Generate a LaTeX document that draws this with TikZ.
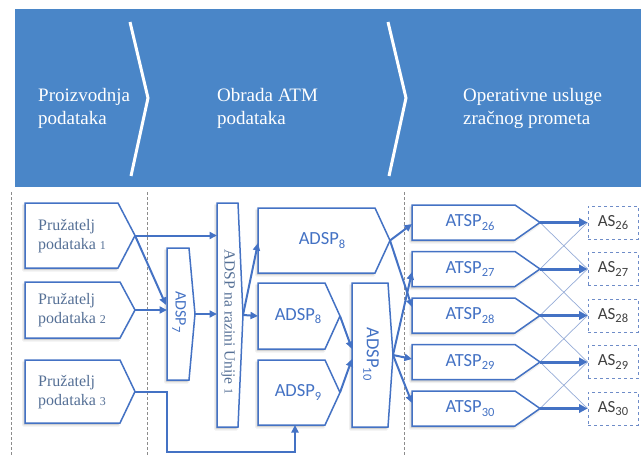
\documentclass[tikz,border=0pt]{standalone}
\usepackage{fontspec}
\setmainfont{Liberation Serif}
\newfontfamily\calibri{Carlito}
\usetikzlibrary{arrows.meta}
\definecolor{hdr}{RGB}{74,134,200}
\definecolor{bx}{RGB}{68,114,196}
\definecolor{ptxt}{RGB}{85,112,150}
\definecolor{astxt}{RGB}{64,64,64}
\definecolor{thinc}{RGB}{150,172,215}
\definecolor{sepc}{RGB}{140,140,140}
\definecolor{asd}{RGB}{110,140,200}
\newcommand\lowsub[1]{\raisebox{-3.5pt}{\fontsize{12.5}{12}\selectfont #1}}
\newcommand\dig[1]{{\fontsize{12}{12}\selectfont #1}}
\newcommand\pbox[6]{%
  \fill[boxshadow] (#2-1.5,#3+2) -- (#4-1.5,#3+2) -- (#5-1.5,{(#3+#6)/2+2}) -- (#4-1.5,#6+2) -- (#2-1.5,#6+2) -- cycle;
  \draw[box] (#2,#3) -- (#4,#3) -- (#5,{(#3+#6)/2}) -- (#4,#6) -- (#2,#6) -- cycle;
  \coordinate (#1-tip) at (#5,{(#3+#6)/2});
  \coordinate (#1-w) at (#2,{(#3+#6)/2});
}
\begin{document}
\begin{tikzpicture}[x=1pt,y=-1pt,
  box/.style={draw=bx, line width=1.5pt, fill=white, line join=miter},
  boxshadow/.style={fill=black, opacity=0.13, draw=black, draw opacity=0.06, line width=3pt, line join=round},
  conn/.style={draw=bx, line width=2pt, -{Triangle[length=7.5pt,width=7pt]}},
  thickconn/.style={draw=bx, line width=3pt, -{Triangle[length=8.5pt,width=8.5pt]}},
  thinconn/.style={draw=thinc, line width=0.7pt},
  sepline/.style={draw=sepc, line width=0.9pt, dash pattern=on 3pt off 2pt},
  hdrtxt/.style={text=white, font=\fontsize{19}{23}\selectfont, align=left, anchor=west, inner sep=0pt},
  ptext/.style={text=ptxt, font=\fontsize{16}{19}\selectfont, align=left, inner sep=0pt},
  stext/.style={text=bx, font=\calibri\fontsize{18.5}{20}\selectfont, inner sep=0pt},
  astext/.style={text=astxt, font=\calibri\fontsize{17}{20}\selectfont, inner sep=0pt},
  asbox/.style={draw=asd, dashed, line width=0.9pt, minimum width=50pt, minimum height=33pt, inner sep=0pt},
]
\useasboundingbox (0,0) rectangle (641,455);

% header
\fill[hdr] (15,9) rectangle (641,187);
\draw[white, line width=3pt] (130,22) -- (148,98) -- (131,176);
\draw[white, line width=3pt] (388,22) -- (406,98) -- (389,176);
\node[hdrtxt] (h1) at (38,108) {Proizvodnja\\podataka};
\node[hdrtxt] (h2) at (217,108) {Obrada ATM\\podataka};
\node[hdrtxt] (h3) at (463,108) {Operativne usluge\\zračnog prometa};

% separators
\draw[sepline] (11,192) -- (11,455);
\draw[sepline] (147,192) -- (147,455);
\draw[sepline] (404,192) -- (404,455);

% boxes
\pbox{p1}{25}{203}{118}{135}{268}
\pbox{p2}{25}{282}{120}{135}{338}
\pbox{p3}{25}{360}{120}{135}{423}
\pbox{a7}{167}{248}{189}{195}{380}
\pbox{un}{217}{203}{238}{243}{427}
\pbox{a8}{258}{208}{375}{390}{273}
\pbox{b8}{258}{283}{325}{340}{349}
\pbox{a9}{258}{360}{325}{340}{425}
\pbox{a10}{352}{283}{388}{393}{427}
\pbox{t26}{412}{205}{515}{540}{240}
\pbox{t27}{412}{251.5}{515}{540}{286.5}
\pbox{t28}{412}{298}{515}{540}{333}
\pbox{t29}{412}{344.5}{515}{540}{379.5}
\pbox{t30}{412}{391}{515}{540}{426}

\node[asbox] (s26) at (613,222.5) {};
\node[asbox] (s27) at (613,269) {};
\node[asbox] (s28) at (613,315.5) {};
\node[asbox] (s29) at (613,362) {};
\node[asbox] (s30) at (613,408.5) {};

% texts
\node[ptext, anchor=west] (p1t) at (38,236) {Pružatelj\\podataka \dig{1}};
\node[ptext, anchor=west] (p2t) at (38,310.5) {Pružatelj\\podataka \dig{2}};
\node[ptext, anchor=west] (p3t) at (38,392) {Pružatelj\\podataka \dig{3}};
\node[ptext, rotate=-90, font=\fontsize{15.5}{18}\selectfont] (unt) at (228,322) {ADSP na razini Unije \dig{1}};
\node[stext, rotate=-90, font=\calibri\fontsize{16}{18}\selectfont] (a7t) at (179,312) {ADSP\lowsub{7}};
\node[stext, rotate=-90] (a10t) at (371,354) {ADSP\lowsub{10}};
\node[stext] (a8t) at (322,240.5) {ADSP\lowsub{8}};
\node[stext] (b8t) at (298,316) {ADSP\lowsub{8}};
\node[stext] (a9t) at (298,392.5) {ADSP\lowsub{9}};
\node[stext] (t26t) at (470,222.5) {ATSP\lowsub{26}};
\node[stext] (t27t) at (470,269) {ATSP\lowsub{27}};
\node[stext] (t28t) at (470,315.5) {ATSP\lowsub{28}};
\node[stext] (t29t) at (470,362) {ATSP\lowsub{29}};
\node[stext] (t30t) at (470,408.5) {ATSP\lowsub{30}};
\node[astext] (s26t) at (s26) {AS\lowsub{26}};
\node[astext] (s27t) at (s27) {AS\lowsub{27}};
\node[astext] (s28t) at (s28) {AS\lowsub{28}};
\node[astext] (s29t) at (s29) {AS\lowsub{29}};
\node[astext] (s30t) at (s30) {AS\lowsub{30}};

% connector end points
\coordinate (a7-in1) at (166,305);
\coordinate (bend1) at (167,452);
\coordinate (bend2) at (295,452);
\coordinate (a9-s) at (295,425);
\coordinate (a8-in) at (258,243);
\coordinate (a10-in1) at (352,349);
\coordinate (a10-in2) at (352,359);
\coordinate (t26-in) at (412,224);
\coordinate (t27-in) at (412,272);
\coordinate (t28-in) at (412,307);
\coordinate (t29-in) at (412,359);
\coordinate (t30-in) at (412,403);

% connectors
\draw[conn] (p1-tip) -- (un-w |- p1-tip);
\draw[conn] (p1-tip) -- (a7-in1);
\draw[conn] (p2-tip) -- (a7-w |- p2-tip);
\draw[conn] (a7-tip) -- (un-w |- a7-tip);
\draw[conn] (p3-tip) -| (bend1) -- (bend2) -- (a9-s);
\draw[conn] (un-tip) -- (a8-in);
\draw[conn] (un-tip) -- (b8-w);
\draw[conn] (b8-tip) -- (a10-in1);
\draw[conn] (a9-tip) -- (a10-in2);
\draw[conn] (a8-tip) -- (t26-in);
\draw[conn] (a8-tip) -- (t28-in);
\draw[conn] (a10-tip) -- (t27-in);
\draw[conn] (a10-tip) -- (t29-in);
\draw[conn] (a10-tip) -- (t30-in);

\draw[thinconn] (t26-tip) -- (s27.west);
\draw[thinconn] (t27-tip) -- (s26.west);
\draw[thinconn] (t27-tip) -- (s28.west);
\draw[thinconn] (t28-tip) -- (s27.west);
\draw[thinconn] (t28-tip) -- (s29.west);
\draw[thinconn] (t29-tip) -- (s28.west);
\draw[thinconn] (t29-tip) -- (s30.west);
\draw[thinconn] (t30-tip) -- (s29.west);

\draw[thickconn] (t26-tip) -- (s26.west);
\draw[thickconn] (t27-tip) -- (s27.west);
\draw[thickconn] (t28-tip) -- (s28.west);
\draw[thickconn] (t29-tip) -- (s29.west);
\draw[thickconn] (t30-tip) -- (s30.west);
\end{tikzpicture}
\end{document}
